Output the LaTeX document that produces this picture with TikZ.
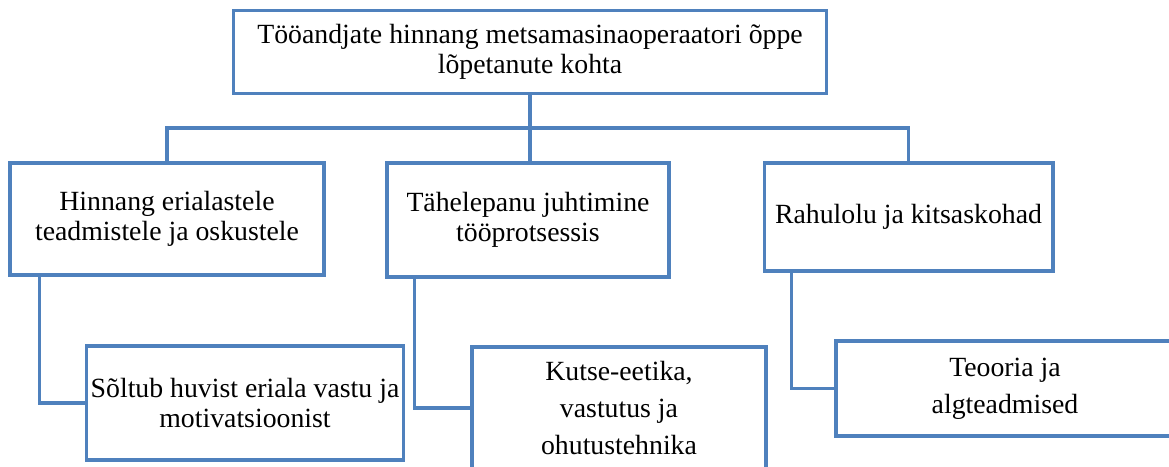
\documentclass[tikz,border=0pt]{standalone}
\usepackage{fontspec}
\setmainfont{Liberation Serif}
\definecolor{linkblue}{HTML}{4F81BD}

\begin{document}
\begin{tikzpicture}[
    x=0.45pt, y=-0.45pt,
    box/.style={rectangle, draw=linkblue, line width=1.4pt, align=center, fill=white, inner sep=2pt, font=\fontsize{12.5}{13.5}\selectfont},
    wide/.style={font=\fontsize{12.5}{16.8}\selectfont},
    link/.style={draw=linkblue, line width=1.4pt}
]
\clip (0,0) rectangle (1169,466);
% Top level
\node[box, minimum width=267pt, minimum height=37pt] (top) at (530,52) {Tööandjate hinnang metsamasinaoperaatori õppe\\lõpetanute kohta};
% Second level
\node[box, minimum width=141.3pt, minimum height=50.4pt] (hin) at (167,219) {Hinnang erialastele\\teadmistele ja oskustele};
\node[box, minimum width=126.9pt, minimum height=51.3pt] (tah) at (528,220) {Tähelepanu juhtimine\\tööprotsessis};
\node[box, minimum width=130pt, minimum height=48.6pt] (rah) at (908.5,217) {Rahulolu ja kitsaskohad};
% Third level
\node[box, minimum width=141.3pt, minimum height=51.3pt] (sol) at (245,403) {Sõltub huvist eriala vastu ja\\motivatsioonist};
\node[box, wide, minimum width=132.3pt, minimum height=54.9pt] (kut) at (619,408) {Kutse-eetika,\\vastutus ja\\ohutustehnika};
\node[box, wide, minimum width=152.1pt, minimum height=42.75pt] (teo) at (1005,388.5) {Teooria ja\\algteadmised};
% Connectors from the top
\coordinate (bus) at (530,128);
\draw[link] (top.south) -- (bus);
\draw[link] (hin.north) |- (bus) -| (rah.north);
\draw[link] (bus) -- (bus |- tah.north);
% Connectors to the third level
\draw[link] ([xshift=14pt]hin.south west) |- (sol.west);
\draw[link] ([xshift=13pt]tah.south west) |- (kut.west);
\draw[link] ([xshift=13pt]rah.south west) |- (teo.west);
\end{tikzpicture}
\end{document}
